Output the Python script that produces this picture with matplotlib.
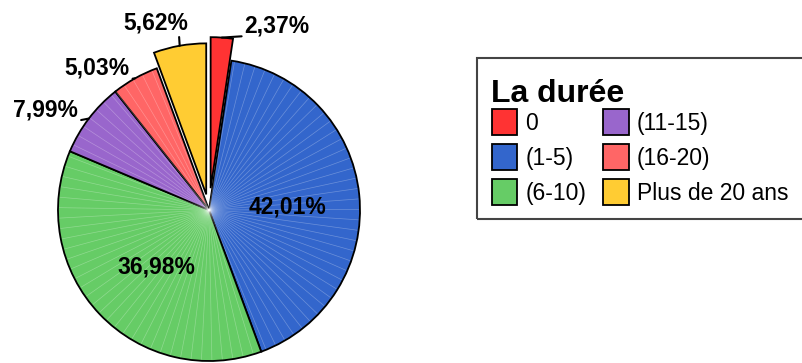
import numpy as np
import matplotlib
matplotlib.use("Agg")
import matplotlib.pyplot as plt
from matplotlib.patches import Patch, Rectangle

plt.rcParams["font.family"] = ["Liberation Sans", "DejaVu Sans"]

# share of respondents per duration band
categories = ["0", "(1-5)", "(6-10)", "(11-15)", "(16-20)", "Plus de 20 ans"]
shares = [2.37, 42.01, 36.98, 7.99, 5.03, 5.62]
explode = [0.145, 0, 0, 0, 0, 0.105]
colors = ["#FF3333", "#3366CC", "#66CC66", "#9966CC", "#FF6666", "#FFCC33"]

# label positions (pie radius units) and leader-line anchor on the label box
inside_labels = {1: (0.52, 0.02), 2: (-0.35, -0.38)}
outside_labels = {0: ((0.45, 1.22), (0.0, 0.05)),
                  5: ((-0.35, 1.24), (0.85, 0.05)),
                  4: ((-0.74, 0.94), (0.95, 0.0)),
                  3: ((-1.08, 0.66), (0.9, 0.0))}

W, H = 802, 363
CX, CY, R = 209, 210, 151

fig = plt.figure(figsize=(W / 100, H / 100), dpi=100)
ax = fig.add_axes([0, 0, 1, 1])

wedges, _ = ax.pie(shares, explode=explode, colors=colors, startangle=90,
                   counterclock=False,
                   wedgeprops=dict(edgecolor="black", linewidth=1.3))

# faint radial streaks inside each slice
for w in wedges:
    cx, cy = w.center
    for ang in np.arange(w.theta1 + 2.0, w.theta2, 4.0):
        t = np.deg2rad(ang)
        ax.plot([cx, cx + w.r * 0.99 * np.cos(t)], [cy, cy + w.r * 0.99 * np.sin(t)],
                color="white", lw=0.5, alpha=0.28, zorder=w.get_zorder() + 0.1)

# exploded slices sit on top so their black outline stays whole
for w, e in zip(wedges, explode):
    if e:
        w.set_zorder(3)

def fmt(v):
    return f"{v:.2f}".replace(".", ",") + "%"

for i, (x, y) in inside_labels.items():
    ax.text(x, y, fmt(shares[i]), ha="center", va="center",
            fontsize=16.5, fontweight="bold", zorder=5)

for i, ((x, y), rel) in outside_labels.items():
    w = wedges[i]
    mid = np.deg2rad((w.theta1 + w.theta2) / 2)
    cx, cy = w.center
    px, py = cx + w.r * np.cos(mid), cy + w.r * np.sin(mid)
    ax.annotate(fmt(shares[i]), xy=(px, py), xytext=(x, y),
                ha="center", va="center", fontsize=16.5, fontweight="bold",
                arrowprops=dict(arrowstyle="-", color="black", lw=1.5,
                                relpos=rel, shrinkA=0, shrinkB=0),
                zorder=5)

ax.set_xlim(-CX / R, (W - CX) / R)
ax.set_ylim(-(H - CY) / R, CY / R)
ax.set_aspect("auto")
ax.axis("off")

# legend box runs off the right edge of the figure
fig.patches.append(Rectangle((477 / W, 1 - 219 / H), 340 / W, 161 / H,
                             transform=fig.transFigure, facecolor="none",
                             edgecolor="#444444", linewidth=1.5, zorder=5))
fig.text(491 / W, 1 - 102 / H, "La durée", fontsize=23, fontweight="bold",
         ha="left", va="baseline")

handles = [Patch(facecolor=c, edgecolor="black", linewidth=1.3) for c in colors]
leg = ax.legend(handles, categories, ncol=2,
                loc="upper left", bbox_to_anchor=(492 / W, 1 - 109 / H),
                bbox_transform=fig.transFigure, borderaxespad=0,
                fontsize=16.5, frameon=False,
                handlelength=1.1, handleheight=1.37, handletextpad=0.35,
                labelspacing=0.39, columnspacing=0.75, borderpad=0)

fig.savefig("out.png", dpi=100)
